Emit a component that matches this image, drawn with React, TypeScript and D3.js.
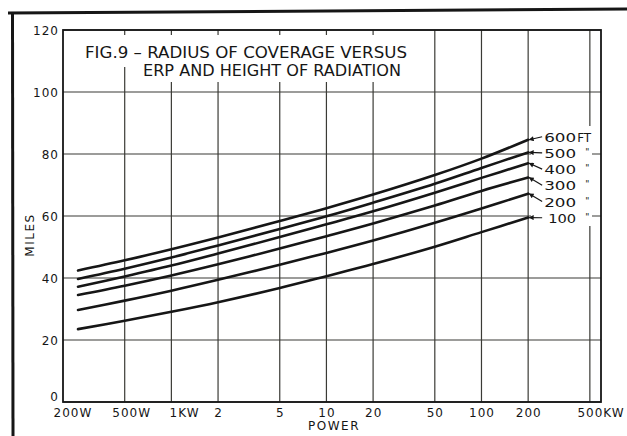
import React from 'react';
import * as d3 from 'd3';

// Power in kW (x, log scale)
const powersKW = [0.25, 0.5, 1, 2, 5, 10, 20, 50, 100, 200];
// Radius of coverage (miles) for each antenna height
const miles600 = [42.4, 45.7, 49.3, 53.1, 58.4, 62.5, 66.9, 73.2, 78.5, 84.6];
const miles500 = [39.7, 43.0, 46.6, 50.5, 55.8, 59.9, 64.3, 70.4, 75.5, 80.5];
const miles400 = [37.2, 40.5, 44.0, 47.9, 53.2, 57.3, 61.5, 67.5, 72.3, 77.0];
const miles300 = [34.5, 37.5, 40.8, 44.4, 49.5, 53.5, 57.6, 63.4, 68.1, 72.4];
const miles200 = [29.7, 32.7, 35.9, 39.4, 44.3, 48.1, 52.1, 57.8, 62.4, 67.2];
const miles100 = [23.5, 26.2, 29.1, 32.2, 36.8, 40.6, 44.5, 50.1, 54.8, 59.5];

const seriesValues = [miles600, miles500, miles400, miles300, miles200, miles100];
const heightNumbers = ['600', '500', '400', '300', '200', '100'];
const heightSuffixes = ['FT', '"', '"', '"', '"', '"'];

const xTickValues = [0.2, 0.5, 1, 2, 5, 10, 20, 50, 100, 200, 500];
const xTickNumbers = ['200', '500', '1', '2', '5', '10', '20', '50', '100', '200', '500'];
const xTickSuffixes = ['W', 'W', 'KW', '', '', '', '', '', '', '', 'KW'];
const yTickValues = [0, 20, 40, 60, 80, 100, 120];

const titleLine1 = 'FIG.9 – RADIUS OF COVERAGE VERSUS';
const titleLine2 = 'ERP AND HEIGHT OF RADIATION';
const yTitle = 'MILES';
const xTitle = 'POWER';

const W = 627;
const H = 436;
const FONT = '"DejaVu Sans", "Liberation Sans", sans-serif';
const INK = '#161616';
const GRID = '#3b3b36';

export default function App() {
  const x = d3.scaleLog().domain([0.2, 590]).range([63, 601]);
  const y = d3.scaleLinear().domain([0, 120]).range([402, 30]);
  const line = d3
    .line<number>()
    .x((_, i) => x(powersKW[i]))
    .y((d) => y(d))
    .curve(d3.curveCatmullRom.alpha(0.5));

  const left = x.range()[0];
  const right = x.range()[1];
  const top = y(120);
  const bottom = y(0);

  const endX = x(powersKW[powersKW.length - 1]);
  const labelX = endX + 16;
  const firstEndY = y(seriesValues[0][seriesValues[0].length - 1]);
  const labelY = (i: number) => firstEndY - 3 + i * 16.2;

  const digitW = 7.6;

  return (
    <svg
      width={W}
      height={H}
      viewBox={`0 0 ${W} ${H}`}
      style={{ position: 'absolute', left: 0, top: 0, background: '#fff' }}
    >
      <defs>
        <marker
          id="arr"
          viewBox="0 0 10 10"
          refX="9"
          refY="5"
          markerWidth="7"
          markerHeight="5"
          orient="auto"
          markerUnits="userSpaceOnUse"
        >
          <path d="M0,0 L10,5 L0,10 z" fill={INK} />
        </marker>
      </defs>
      <rect x={0} y={0} width={W} height={H} fill="#fff" />

      {/* outer frame of the scanned page */}
      <line x1={8} y1={13} x2={627} y2={9} stroke={INK} strokeWidth={3} />
      <line x1={12.5} y1={12} x2={13} y2={436} stroke={INK} strokeWidth={3} />

      {/* grid */}
      {yTickValues.map((v) => (
        <line key={'gy' + v} x1={left} x2={right} y1={y(v)} y2={y(v)} stroke={GRID} strokeWidth={1.2} />
      ))}
      {xTickValues.slice(1).map((v) => (
        <line key={'gx' + v} x1={x(v)} x2={x(v)} y1={top} y2={bottom} stroke={GRID} strokeWidth={1.2} />
      ))}

      {/* plot border */}
      <rect x={left} y={top} width={right - left} height={bottom - top} fill="none" stroke={INK} strokeWidth={1.8} />

      {/* title background */}
      <rect x={80} y={35} width={331} height={32} fill="#fff" />
      <rect x={140} y={35} width={267} height={47} fill="#fff" />
      <text x={85} y={58} fontFamily={FONT} fontSize={15} fill={INK} textLength={322} lengthAdjust="spacingAndGlyphs">
        {titleLine1}
      </text>
      <text x={143} y={76} fontFamily={FONT} fontSize={15} fill={INK} textLength={258} lengthAdjust="spacingAndGlyphs">
        {titleLine2}
      </text>

      {/* curves */}
      {seriesValues.map((vals, i) => (
        <path key={'s' + i} d={line(vals) || ''} fill="none" stroke={INK} strokeWidth={2.6} strokeLinecap="round" />
      ))}

      {/* height labels */}
      <rect x={531} y={126} width={61} height={100} fill="#fff" />
      {seriesValues.map((vals, i) => {
        const ey = y(vals[vals.length - 1]);
        const ly = labelY(i);
        const isFt = heightSuffixes[i] === 'FT';
        return (
          <g key={'lab' + i}>
            <line
              x1={labelX - 2}
              y1={ly}
              x2={endX + 1}
              y2={ey}
              stroke={INK}
              strokeWidth={1.2}
              markerEnd="url(#arr)"
            />
            <text
              x={labelX + (i === 5 ? 4 : 0)}
              y={ly + 5}
              fontFamily={FONT}
              fontSize={13}
              fill={INK}
              textLength={i === 5 ? 28 : 32}
              lengthAdjust="spacingAndGlyphs"
            >
              {heightNumbers[i]}
            </text>
            <text
              x={isFt ? labelX + 33 : labelX + 41}
              y={ly + (isFt ? 5 : 2)}
              fontFamily={FONT}
              fontSize={isFt ? 12 : 9}
              fill={INK}
            >
              {heightSuffixes[i]}
            </text>
          </g>
        );
      })}

      {/* y tick labels */}
      {yTickValues.map((v) => (
        <text
          key={'ty' + v}
          x={left - 4}
          y={v === 0 ? y(v) - 1 : y(v) + 4.5}
          textAnchor="end"
          fontFamily={FONT}
          fontSize={12}
          letterSpacing={1}
          fill={INK}
        >
          {v}
        </text>
      ))}

      {/* x tick labels */}
      {xTickValues.map((v, i) => {
        const num = xTickNumbers[i];
        const numW = num.length * digitW + (num.length - 1) * 1;
        const cx = x(v) + (i === 2 ? 2 : i === 0 ? 3 : 0);
        return (
          <text
            key={'tx' + v}
            x={cx - numW / 2}
            y={417}
            fontFamily={FONT}
            fontSize={12}
            letterSpacing={1}
            fill={INK}
          >
            {num}
            {xTickSuffixes[i]}
          </text>
        );
      })}

      {/* axis titles */}
      <text
        transform={`translate(34, 235) rotate(-90)`}
        textAnchor="middle"
        fontFamily={FONT}
        fontSize={12}
        letterSpacing={1.5}
        fill={INK}
      >
        {yTitle}
      </text>
      <text x={334} y={430} textAnchor="middle" fontFamily={FONT} fontSize={12} letterSpacing={1.5} fill={INK}>
        {xTitle}
      </text>
    </svg>
  );
}
